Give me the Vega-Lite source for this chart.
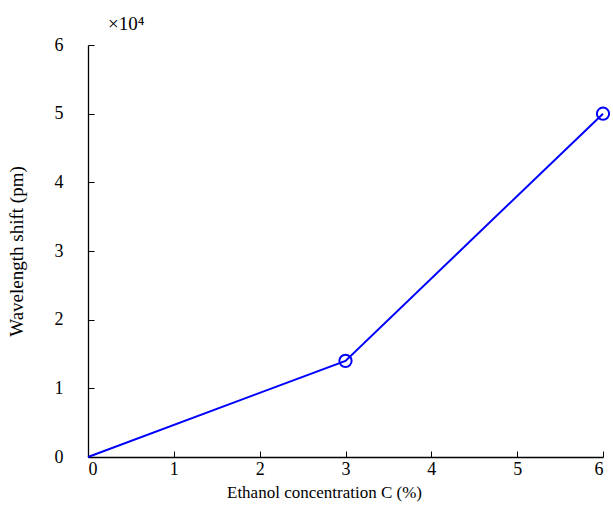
{
  "$schema": "https://vega.github.io/schema/vega-lite/v6.json",
  "autosize": "none",
  "width": 515,
  "height": 412,
  "padding": {"left": 88, "top": 45, "right": 10, "bottom": 48},
  "background": "white",
  "title": {
    "text": "×10⁴",
    "anchor": "start",
    "frame": "group",
    "dx": 20,
    "offset": 2,
    "font": "Liberation Serif",
    "fontSize": 19,
    "fontWeight": "normal",
    "color": "black"
  },
  "data": {
    "values": [
      {"c": 0, "shift": 0, "marker": false},
      {"c": 3, "shift": 1.4, "marker": true},
      {"c": 6, "shift": 5.0, "marker": true}
    ]
  },
  "config": {
    "view": {"stroke": null},
    "axis": {
      "grid": false,
      "domainColor": "black",
      "domainWidth": 1.3,
      "tickColor": "black",
      "tickWidth": 1,
      "tickSize": -6,
      "labelFont": "Liberation Serif",
      "labelFontSize": 18,
      "labelColor": "black",
      "titleFont": "Liberation Serif",
      "titleFontWeight": "normal",
      "titleColor": "black"
    }
  },
  "encoding": {
    "x": {
      "field": "c",
      "type": "quantitative",
      "scale": {"domain": [0, 6], "nice": false},
      "axis": {"values": [0, 1, 2, 3, 4, 5, 6], "format": "d", "title": "Ethanol concentration C (%)", "titleFontSize": 17, "titleX": 236, "labelPadding": 9, "titlePadding": 6}
    },
    "y": {
      "field": "shift",
      "type": "quantitative",
      "scale": {"domain": [0, 6], "nice": false},
      "axis": {"values": [0, 1, 2, 3, 4, 5, 6], "format": "d", "title": "Wavelength shift (pm)", "titleFontSize": 19, "labelPadding": 31, "titlePadding": 28}
    }
  },
  "layer": [
    {
      "mark": {"type": "line", "color": "#0000ff", "strokeWidth": 2}
    },
    {
      "transform": [{"filter": "datum.marker"}],
      "mark": {"type": "point", "shape": "circle", "filled": false, "color": "#0000ff", "strokeWidth": 2, "size": 150, "opacity": 1}
    }
  ]
}
